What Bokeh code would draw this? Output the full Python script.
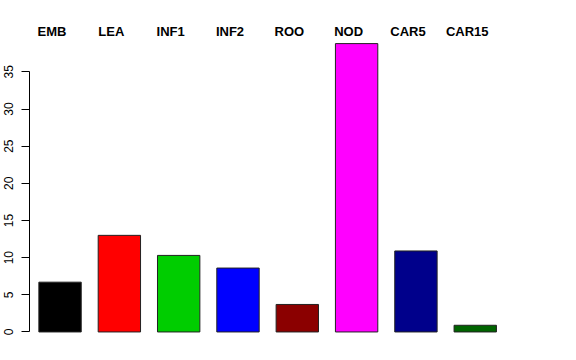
from bokeh.plotting import figure
from bokeh.models import ColumnDataSource, Range1d, FixedTicker
from bokeh.core.properties import value
from bokeh.embed import file_html
from bokeh.resources import INLINE

categories = ["EMB", "LEA", "INF1", "INF2", "ROO", "NOD", "CAR5", "CAR15"]
values = [6.7, 13.0, 10.3, 8.6, 3.7, 38.8, 10.9, 0.9]
colors = ["#000000", "#FF0000", "#00CD00", "#0000FF", "#8B0000", "#FF00FF", "#00008B", "#006400"]
y_ticks = [0, 5, 10, 15, 20, 25, 30, 35]

xs = list(range(len(categories)))
top = max(values)
src = ColumnDataSource(dict(x=xs, top=values, color=colors, cat=categories,
                            ly=[top * 1.043] * len(categories)))

p = figure(width=576, height=360, output_backend="svg", toolbar_location=None,
           x_range=Range1d(-0.515, len(categories) - 0.49),
           y_range=Range1d(-0.04 * top, 44.6),
           min_border_left=29, min_border_right=71, min_border_top=0, min_border_bottom=17)
p.outline_line_color = None
p.xgrid.visible = False
p.ygrid.visible = False
p.xaxis.visible = False

p.vbar(x="x", top="top", bottom=0, width=1 / 1.4, fill_color="color",
       line_color="#222222", line_width=1, source=src)

p.text(x="x", y="ly", text="cat", source=src, text_align="center", text_baseline="middle",
       text_font=value("Liberation Sans"), text_font_style="bold", text_font_size="13px",
       text_color="black", x_offset=-8)

ax = p.yaxis[0]
ax.ticker = FixedTicker(ticks=y_ticks)
ax.bounds = (y_ticks[0], y_ticks[-1])
ax.major_label_orientation = "vertical"
ax.major_label_text_font = "Liberation Sans"
ax.major_label_text_font_size = "12px"
ax.major_label_text_color = "black"
ax.axis_line_color = "black"
ax.major_tick_line_color = "black"
ax.major_tick_out = 8
ax.major_tick_in = 0
ax.minor_tick_line_color = None
ax.major_label_standoff = 8

open("out.html", "w").write(file_html(p, INLINE))
